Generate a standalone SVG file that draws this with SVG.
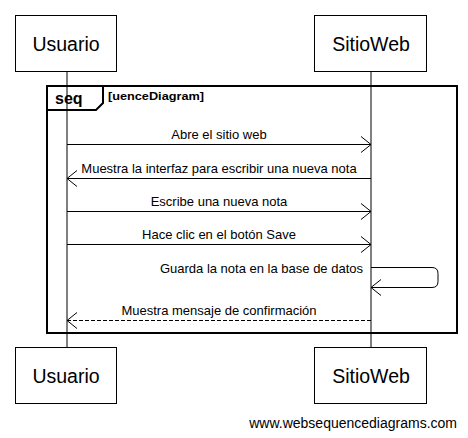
<svg xmlns="http://www.w3.org/2000/svg" width="468" height="438" viewBox="0 0 468 438">
<defs>
<style>
.actor{fill:#fff;stroke:#000;stroke-width:1}
.aname{font-family:"Liberation Sans",Arial,sans-serif;font-size:19.5px;fill:#000;text-anchor:middle}
.msg{font-family:"Liberation Sans",Arial,sans-serif;font-size:13px;fill:#000;text-anchor:middle}
.line{stroke:#000;stroke-width:1;fill:none}
.dash{stroke:#000;stroke-width:1;fill:none;stroke-dasharray:4,2}
.frame{stroke:#000;stroke-width:2;fill:none}
</style>
<marker id="arr" viewBox="0 0 12 18" refX="11" refY="9" markerWidth="12" markerHeight="18" markerUnits="userSpaceOnUse" orient="auto">
<path d="M1,1 L11,9 L1,17" fill="none" stroke="#000" stroke-width="1"/>
</marker>
</defs>
<rect width="468" height="438" fill="#fff"/>
<g id="lifelines">
<line class="line" x1="67" y1="72" x2="67" y2="347"/>
<line class="line" x1="371" y1="72" x2="371" y2="347"/>
</g>
<g id="frame">
<rect class="frame" x="47" y="86" width="410" height="247"/>
<path class="frame" d="M47,86 H103 V103 L96,110 H47" fill="#fff"/>
<text x="55" y="104" font-family="'Liberation Sans',Arial,sans-serif" font-size="16" font-weight="bold">seq</text>
<text x="108" y="100" font-family="'Liberation Sans',Arial,sans-serif" font-size="11.5" font-weight="bold" textLength="96" lengthAdjust="spacingAndGlyphs">[uenceDiagram]</text>
</g>
<g id="Usuario-top"><rect class="actor" x="15.5" y="15.5" width="101" height="56"/><text class="aname" x="66" y="50.5">Usuario</text></g>
<g id="SitioWeb-top"><rect class="actor" x="314.5" y="15.5" width="112" height="56"/><text class="aname" x="371" y="50.5">SitioWeb</text></g>
<g id="Usuario-bottom"><rect class="actor" x="15.5" y="347.5" width="101" height="56"/><text class="aname" x="66" y="382.5">Usuario</text></g>
<g id="SitioWeb-bottom"><rect class="actor" x="314.5" y="347.5" width="112" height="56"/><text class="aname" x="371" y="382.5">SitioWeb</text></g>
<g id="connectors">
<line class="line" x1="67" y1="144.5" x2="371" y2="144.5" marker-end="url(#arr)"/>
<text class="msg" x="219" y="139">Abre el sitio web</text>
<line class="line" x1="371" y1="178.5" x2="67" y2="178.5" marker-end="url(#arr)"/>
<text class="msg" x="219" y="173">Muestra la interfaz para escribir una nueva nota</text>
<line class="line" x1="67" y1="211.5" x2="371" y2="211.5" marker-end="url(#arr)"/>
<text class="msg" x="219" y="206">Escribe una nueva nota</text>
<line class="line" x1="67" y1="244.5" x2="371" y2="244.5" marker-end="url(#arr)"/>
<text class="msg" x="219" y="239">Hace clic en el botón Save</text>
<path class="line" d="M371,267.5 H432 Q438,267.5 438,273.5 V281.5 Q438,287.5 432,287.5 H371" marker-end="url(#arr)"/>
<text class="msg" x="363" y="273" style="text-anchor:end">Guarda la nota en la base de datos</text>
<line class="dash" x1="371" y1="320.5" x2="67" y2="320.5" marker-end="url(#arr)"/>
<text class="msg" x="219" y="315">Muestra mensaje de confirmación</text>
</g>
<text x="457" y="428" font-family="'Liberation Sans',Arial,sans-serif" font-size="14" text-anchor="end">www.websequencediagrams.com</text>
</svg>
